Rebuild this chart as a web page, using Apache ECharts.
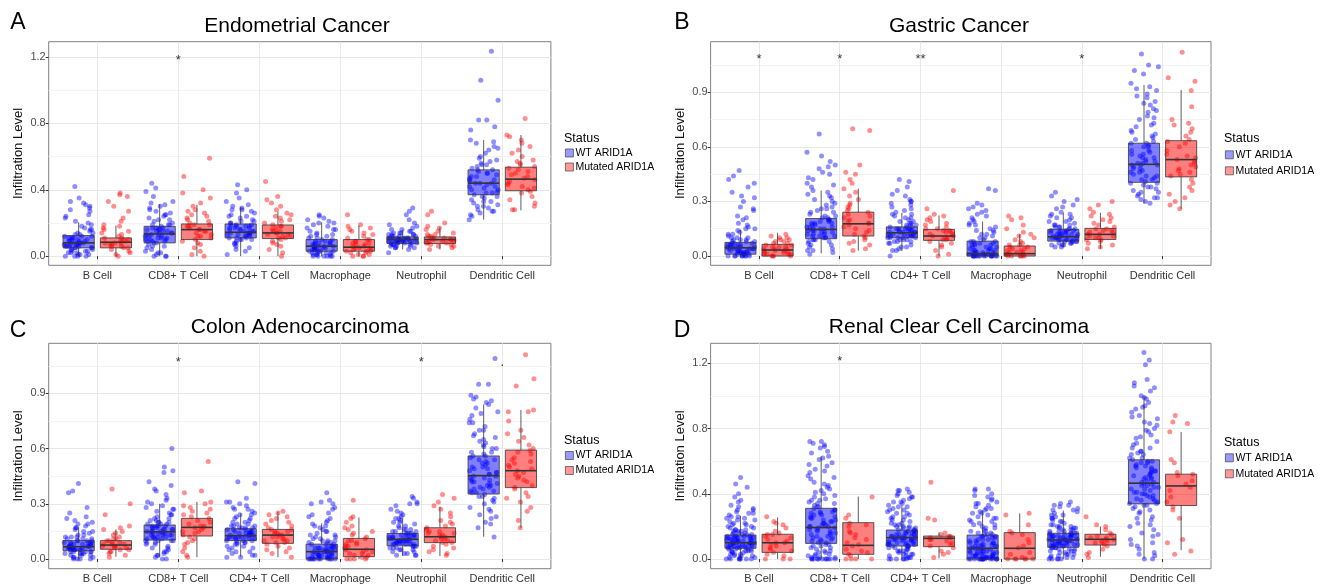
<!DOCTYPE html>
<html>
<head>
<meta charset="utf-8">
<script src="https://cdn.jsdelivr.net/npm/echarts@6.0.0/dist/echarts.min.js"></script>
<style>
html, body { margin: 0; padding: 0; background: #fff; }
#main { width: 1327px; height: 586px; }
</style>
</head>
<body>
<div id="main"></div>
<script>
// categories / groups
var cells = ['B Cell', 'CD8+ T Cell', 'CD4+ T Cell', 'Macrophage', 'Neutrophil', 'Dendritic Cell'];
var groups = ['WT ARID1A', 'Mutated ARID1A'];

// ---- A: Endometrial Cancer ----
var endoRange = [-0.055, 1.292];
var endoTicks = [0, 0.4, 0.8, 1.2];
var endoMinor = [0.2, 0.6, 1.0];
// [low whisker, q1, median, q3, high whisker]
var endoWtBox = [[0,0.05,0.08,0.124,0.204],[0,0.08,0.134,0.18,0.314],[0,0.11,0.144,0.194,0.296],[0,0.03,0.06,0.10,0.204],[0.04,0.076,0.10,0.116,0.16],[0.22,0.37,0.44,0.52,0.70]];
var endoMutBox = [[0,0.05,0.084,0.11,0.184],[0,0.10,0.16,0.194,0.31],[0,0.106,0.14,0.188,0.268],[0,0.03,0.054,0.10,0.184],[0.04,0.076,0.10,0.116,0.174],[0.276,0.394,0.464,0.536,0.73]];
var endoWtPts = [
  [0.42,0.35,0.33,0.32,0.31,0.30,0.29,0.28,0.27,0.25,0.24,0.23,0.21,0.20,0.19,0.18,0.17,0.16,0.15,0.14,0.13,0.13,0.12,0.12,0.11,0.11,0.10,0.10,0.09,0.09,0.09,0.08,0.08,0.08,0.07,0.07,0.07,0.06,0.06,0.06,0.05,0.05,0.05,0.04,0.04,0.03,0.03,0.02,0.02,0.01,0.01,0.00,0.00,0.00,
   0.16,0.14,0.12,0.11,0.10,0.09,0.08,0.07,0.06,0.05,0.04,0.03,0.02,0.01,0.00],
  [0.44,0.41,0.39,0.36,0.33,0.32,0.31,0.29,0.28,0.27,0.26,0.25,0.24,0.23,0.22,0.21,0.20,0.19,0.19,0.18,0.17,0.17,0.16,0.16,0.15,0.15,0.14,0.14,0.13,0.13,0.12,0.12,0.11,0.11,0.10,0.10,0.09,0.09,0.08,0.08,0.07,0.06,0.05,0.04,0.03,0.02,0.01,0.00,0.00,0.00,
   0.30,0.25,0.22,0.19,0.17,0.16,0.15,0.14,0.13,0.12,0.11,0.10,0.09,0.06,0.02],
  [0.43,0.40,0.38,0.35,0.33,0.31,0.30,0.29,0.28,0.27,0.26,0.25,0.24,0.23,0.22,0.21,0.20,0.20,0.19,0.19,0.18,0.18,0.17,0.17,0.16,0.16,0.15,0.15,0.14,0.14,0.14,0.13,0.13,0.12,0.12,0.11,0.11,0.10,0.10,0.09,0.08,0.07,0.06,0.05,0.03,0.01,
   0.28,0.24,0.21,0.19,0.18,0.17,0.16,0.15,0.14,0.13,0.12,0.11,0.10,0.08,0.04],
  [0.25,0.24,0.23,0.22,0.21,0.20,0.19,0.18,0.17,0.16,0.15,0.14,0.13,0.12,0.12,0.11,0.10,0.10,0.09,0.09,0.08,0.08,0.07,0.07,0.06,0.06,0.06,0.05,0.05,0.05,0.04,0.04,0.04,0.03,0.03,0.03,0.02,0.02,0.02,0.01,0.01,0.01,0.00,0.00,0.00,0.00,
   0.20,0.16,0.13,0.11,0.09,0.08,0.07,0.06,0.05,0.04,0.03,0.02,0.01,0.00,0.00],
  [0.29,0.27,0.25,0.22,0.20,0.19,0.18,0.17,0.16,0.15,0.15,0.14,0.14,0.13,0.13,0.13,0.12,0.12,0.12,0.11,0.11,0.11,0.11,0.10,0.10,0.10,0.10,0.10,0.09,0.09,0.09,0.09,0.08,0.08,0.08,0.08,0.07,0.07,0.07,0.06,0.06,0.05,0.05,0.04,0.02,
   0.16,0.14,0.13,0.12,0.11,0.11,0.10,0.10,0.09,0.09,0.08,0.08,0.07,0.06,0.05],
  [1.235,1.06,0.94,0.82,0.82,0.78,0.76,0.70,0.69,0.68,0.66,0.64,0.62,0.60,0.58,0.57,0.56,0.55,0.54,0.53,0.52,0.51,0.50,0.49,0.48,0.47,0.46,0.45,0.44,0.44,0.43,0.42,0.41,0.40,0.39,0.38,0.37,0.36,0.35,0.34,0.33,0.32,0.31,0.30,0.29,0.28,0.27,0.26,0.25,0.24,0.22,
   0.65,0.59,0.55,0.52,0.50,0.48,0.46,0.44,0.42,0.40,0.38,0.36,0.33,0.30,0.27]
];
var endoMutPts = [
  [0.38,0.37,0.36,0.33,0.30,0.27,0.23,0.21,0.19,0.18,0.17,0.16,0.15,0.14,0.13,0.12,0.11,0.11,0.10,0.10,0.09,0.09,0.08,0.08,0.08,0.07,0.07,0.06,0.06,0.05,0.05,0.04,0.03,0.02,0.01,0.00],
  [0.59,0.48,0.40,0.38,0.35,0.32,0.30,0.28,0.27,0.26,0.25,0.24,0.23,0.22,0.21,0.20,0.19,0.19,0.18,0.18,0.17,0.16,0.16,0.15,0.15,0.14,0.13,0.12,0.12,0.11,0.10,0.09,0.08,0.07,0.05,0.03,0.01,0.00],
  [0.45,0.36,0.34,0.32,0.30,0.28,0.26,0.25,0.24,0.23,0.22,0.21,0.20,0.19,0.18,0.18,0.17,0.16,0.15,0.15,0.14,0.14,0.13,0.13,0.12,0.12,0.11,0.11,0.10,0.09,0.08,0.07,0.06,0.04,0.02,0.00],
  [0.25,0.19,0.18,0.17,0.16,0.15,0.14,0.13,0.12,0.11,0.10,0.10,0.09,0.09,0.08,0.08,0.07,0.07,0.06,0.06,0.05,0.05,0.05,0.04,0.04,0.03,0.03,0.03,0.02,0.02,0.01,0.01,0.00,0.00,0.00],
  [0.27,0.25,0.20,0.18,0.17,0.16,0.15,0.14,0.13,0.13,0.12,0.12,0.11,0.11,0.11,0.10,0.10,0.10,0.10,0.09,0.09,0.09,0.08,0.08,0.08,0.07,0.07,0.06,0.06,0.05,0.04],
  [0.83,0.73,0.72,0.70,0.68,0.66,0.64,0.62,0.60,0.58,0.57,0.56,0.55,0.54,0.53,0.52,0.51,0.50,0.49,0.48,0.47,0.46,0.45,0.44,0.43,0.42,0.41,0.40,0.39,0.38,0.36,0.34,0.32,0.30,0.28,0.28]
];
var endoMarks = [[1, 1.2, '*']];

// ---- B: Gastric Cancer ----
var gastRange = [-0.051, 1.178];
var gastTicks = [0, 0.3, 0.6, 0.9];
var gastMinor = [0.15, 0.45, 0.75, 1.05];
var gastWtBox = [[0,0.01,0.045,0.075,0.145],[0.015,0.095,0.146,0.206,0.36],[0.027,0.10,0.128,0.16,0.237],[0,0,0.013,0.082,0.19],[0.05,0.082,0.106,0.146,0.237],[0.29,0.405,0.504,0.62,0.94]];
var gastMutBox = [[0,0,0.033,0.064,0.128],[0.03,0.11,0.177,0.241,0.37],[0,0.086,0.11,0.146,0.223],[0,0,0.013,0.055,0.12],[0.04,0.091,0.119,0.152,0.237],[0.26,0.435,0.53,0.634,0.913]];
var gastWtPts = [
  [0.47,0.44,0.42,0.40,0.38,0.35,0.32,0.30,0.27,0.25,0.22,0.20,0.18,0.17,0.16,0.15,0.14,0.13,0.12,0.11,0.10,0.10,0.09,0.09,0.08,0.08,0.07,0.07,0.06,0.06,0.06,0.05,0.05,0.05,0.04,0.04,0.04,0.03,0.03,0.03,0.02,0.02,0.02,0.01,0.01,0.01,0.00,0.00,0.00,0.00,
   0.33,0.26,0.21,0.15,0.12,0.10,0.09,0.08,0.07,0.06,0.06,0.05,0.05,0.04,0.04,0.03,0.03,0.02,0.02,0.01,0.01,0.00,0.00,0.00,0.00],
  [0.67,0.57,0.55,0.52,0.50,0.49,0.46,0.45,0.42,0.40,0.38,0.36,0.35,0.33,0.31,0.30,0.28,0.27,0.26,0.25,0.24,0.23,0.22,0.21,0.20,0.20,0.19,0.18,0.18,0.17,0.16,0.16,0.15,0.15,0.14,0.14,0.13,0.13,0.12,0.12,0.11,0.11,0.10,0.10,0.09,0.09,0.08,0.07,0.06,0.05,0.04,0.03,0.02,0.01,
   0.48,0.43,0.39,0.34,0.32,0.29,0.26,0.24,0.22,0.21,0.20,0.19,0.18,0.17,0.16,0.15,0.14,0.13,0.12,0.11,0.10,0.09,0.08,0.06,0.03],
  [0.42,0.41,0.38,0.36,0.33,0.31,0.30,0.29,0.28,0.27,0.25,0.24,0.23,0.22,0.21,0.20,0.19,0.18,0.18,0.17,0.17,0.16,0.16,0.15,0.15,0.14,0.14,0.13,0.13,0.13,0.12,0.12,0.12,0.11,0.11,0.10,0.10,0.10,0.09,0.09,0.08,0.08,0.07,0.06,0.05,0.04,0.03,0.00,
   0.34,0.30,0.26,0.23,0.21,0.19,0.17,0.16,0.15,0.15,0.14,0.14,0.13,0.13,0.12,0.12,0.11,0.11,0.10,0.10,0.09,0.08,0.07,0.05,0.03],
  [0.37,0.36,0.29,0.28,0.27,0.25,0.24,0.22,0.21,0.19,0.18,0.17,0.16,0.15,0.14,0.13,0.12,0.11,0.10,0.09,0.08,0.08,0.07,0.07,0.06,0.06,0.05,0.05,0.04,0.04,0.03,0.03,0.02,0.02,0.02,0.01,0.01,0.01,0.01,0.00,0.00,0.00,0.00,0.00,0.00,0.00,0.00,0.00,
   0.26,0.23,0.20,0.17,0.14,0.12,0.10,0.08,0.07,0.06,0.05,0.04,0.03,0.03,0.02,0.02,0.01,0.01,0.00,0.00,0.00,0.00,0.00,0.00,0.00],
  [0.35,0.33,0.30,0.28,0.26,0.24,0.23,0.22,0.21,0.20,0.19,0.18,0.17,0.17,0.16,0.16,0.15,0.15,0.14,0.14,0.13,0.13,0.12,0.12,0.12,0.11,0.11,0.11,0.10,0.10,0.10,0.09,0.09,0.09,0.08,0.08,0.08,0.07,0.07,0.06,0.06,0.05,
   0.31,0.27,0.23,0.21,0.19,0.17,0.16,0.15,0.14,0.14,0.13,0.13,0.12,0.12,0.11,0.11,0.10,0.10,0.09,0.09,0.08,0.08,0.07,0.06,0.05],
  [1.11,1.05,1.04,1.02,0.95,0.93,0.91,0.89,0.87,0.85,0.83,0.81,0.79,0.77,0.75,0.73,0.71,0.69,0.67,0.66,0.64,0.63,0.62,0.61,0.60,0.58,0.57,0.56,0.55,0.54,0.53,0.52,0.51,0.50,0.50,0.49,0.48,0.47,0.46,0.45,0.44,0.43,0.42,0.41,0.40,0.39,0.38,0.37,0.36,0.35,0.34,0.33,0.32,0.31,0.30,0.29,
   1.00,0.92,0.88,0.84,0.80,0.76,0.72,0.68,0.65,0.62,0.60,0.58,0.56,0.54,0.52,0.51,0.50,0.48,0.46,0.44,0.42,0.40,0.38,0.35,0.32]
];
var gastMutPts = [
  [0.12,0.11,0.10,0.10,0.09,0.09,0.08,0.08,0.07,0.07,0.06,0.06,0.05,0.05,0.05,0.04,0.04,0.04,0.03,0.03,0.03,0.02,0.02,0.02,0.01,0.01,0.01,0.01,0.00,0.00,0.00,0.00],
  [0.70,0.69,0.50,0.46,0.45,0.42,0.40,0.37,0.35,0.33,0.31,0.29,0.28,0.27,0.26,0.25,0.24,0.23,0.22,0.21,0.20,0.19,0.18,0.18,0.17,0.16,0.15,0.14,0.13,0.12,0.11,0.10,0.09,0.08,0.07,0.06,0.04,0.03],
  [0.36,0.26,0.23,0.22,0.21,0.20,0.19,0.18,0.17,0.16,0.15,0.15,0.14,0.14,0.13,0.13,0.12,0.12,0.11,0.11,0.10,0.10,0.09,0.09,0.08,0.07,0.06,0.05,0.03,0.01,0.00],
  [0.22,0.21,0.20,0.17,0.15,0.13,0.12,0.11,0.10,0.09,0.08,0.07,0.06,0.06,0.05,0.05,0.04,0.04,0.03,0.03,0.02,0.02,0.02,0.01,0.01,0.01,0.01,0.00,0.00,0.00,0.00,0.00,0.00],
  [0.30,0.28,0.26,0.24,0.23,0.22,0.21,0.20,0.19,0.18,0.17,0.16,0.15,0.15,0.14,0.14,0.13,0.13,0.12,0.12,0.11,0.11,0.10,0.10,0.09,0.09,0.08,0.07,0.06,0.05,0.04],
  [1.12,0.98,0.96,0.91,0.82,0.75,0.73,0.72,0.70,0.68,0.66,0.64,0.63,0.62,0.60,0.58,0.56,0.55,0.54,0.53,0.52,0.51,0.50,0.49,0.48,0.47,0.46,0.45,0.44,0.42,0.40,0.38,0.36,0.34,0.32,0.30,0.28,0.26]
];
var gastMarks = [[0, 1.099, '*'], [1, 1.099, '*'], [2, 1.099, '**'], [4, 1.099, '*']];

// ---- C: Colon Adenocarcinoma ----
var colonRange = [-0.0525, 1.172];
var colonTicks = [0, 0.3, 0.6, 0.9];
var colonMinor = [0.15, 0.45, 0.75, 1.05];
var colonWtBox = [[0,0.045,0.067,0.10,0.172],[0.01,0.103,0.148,0.185,0.30],[0.013,0.10,0.127,0.165,0.248],[0,0,0.04,0.081,0.194],[0.016,0.072,0.107,0.139,0.221],[0.121,0.353,0.453,0.56,0.84]];
var colonMutBox = [[0.013,0.053,0.076,0.10,0.161],[0.01,0.125,0.172,0.221,0.31],[0.01,0.085,0.13,0.161,0.257],[0,0.013,0.053,0.112,0.226],[0.016,0.089,0.121,0.17,0.284],[0.17,0.388,0.48,0.592,0.81]];
var colonWtPts = [
  [0.41,0.37,0.36,0.28,0.25,0.23,0.21,0.20,0.19,0.18,0.17,0.16,0.15,0.14,0.13,0.12,0.12,0.11,0.11,0.10,0.10,0.09,0.09,0.08,0.08,0.08,0.07,0.07,0.07,0.06,0.06,0.06,0.05,0.05,0.05,0.04,0.04,0.04,0.03,0.03,0.02,0.02,0.01,0.01,0.00,0.00,
   0.22,0.19,0.17,0.15,0.13,0.12,0.11,0.10,0.10,0.09,0.09,0.08,0.08,0.07,0.07,0.07,0.06,0.06,0.06,0.05,0.05,0.05,0.04,0.04,0.03,0.03,0.02,0.01,0.00,0.00],
  [0.60,0.50,0.48,0.47,0.42,0.40,0.37,0.35,0.33,0.32,0.30,0.29,0.28,0.27,0.26,0.25,0.24,0.23,0.22,0.21,0.20,0.20,0.19,0.19,0.18,0.18,0.17,0.17,0.16,0.16,0.15,0.15,0.14,0.14,0.13,0.13,0.12,0.12,0.11,0.11,0.10,0.10,0.09,0.08,0.07,0.06,0.05,0.04,0.03,0.02,0.01,0.00,
   0.38,0.31,0.27,0.24,0.22,0.21,0.20,0.19,0.18,0.18,0.17,0.16,0.16,0.15,0.15,0.14,0.14,0.13,0.13,0.12,0.12,0.11,0.10,0.10,0.09,0.08,0.06,0.04,0.02,0.00],
  [0.42,0.41,0.33,0.31,0.30,0.29,0.28,0.27,0.26,0.25,0.24,0.23,0.22,0.21,0.20,0.19,0.18,0.18,0.17,0.17,0.16,0.16,0.15,0.15,0.14,0.14,0.13,0.13,0.13,0.12,0.12,0.12,0.11,0.11,0.10,0.10,0.09,0.09,0.08,0.07,0.06,0.05,0.04,0.03,0.02,0.01,
   0.31,0.27,0.24,0.22,0.20,0.19,0.18,0.17,0.17,0.16,0.15,0.15,0.14,0.14,0.13,0.13,0.12,0.12,0.12,0.11,0.11,0.10,0.10,0.09,0.08,0.07,0.06,0.04,0.02,0.01],
  [0.36,0.32,0.31,0.30,0.28,0.27,0.25,0.23,0.22,0.20,0.19,0.18,0.17,0.16,0.15,0.14,0.13,0.12,0.11,0.10,0.10,0.09,0.09,0.08,0.08,0.07,0.07,0.06,0.06,0.05,0.05,0.05,0.04,0.04,0.04,0.03,0.03,0.03,0.02,0.02,0.02,0.01,0.01,0.01,0.00,0.00,0.00,0.00,0.00,0.00,
   0.30,0.24,0.21,0.18,0.15,0.13,0.12,0.11,0.10,0.09,0.08,0.07,0.07,0.06,0.06,0.05,0.05,0.04,0.04,0.03,0.03,0.02,0.02,0.01,0.01,0.00,0.00,0.00,0.00,0.00],
  [0.34,0.33,0.31,0.30,0.29,0.27,0.25,0.24,0.23,0.22,0.21,0.20,0.19,0.18,0.17,0.16,0.16,0.15,0.15,0.14,0.14,0.13,0.13,0.12,0.12,0.12,0.11,0.11,0.11,0.10,0.10,0.10,0.09,0.09,0.09,0.08,0.08,0.08,0.07,0.07,0.06,0.06,0.05,0.05,0.04,0.03,0.02,
   0.30,0.26,0.22,0.20,0.18,0.16,0.15,0.14,0.14,0.13,0.13,0.12,0.12,0.11,0.11,0.10,0.10,0.10,0.09,0.09,0.08,0.08,0.07,0.07,0.06,0.05,0.04,0.03,0.02,0.02],
  [1.09,0.95,0.95,0.89,0.88,0.87,0.86,0.84,0.82,0.80,0.78,0.76,0.74,0.72,0.70,0.68,0.67,0.65,0.64,0.62,0.61,0.60,0.58,0.57,0.56,0.55,0.54,0.53,0.52,0.51,0.50,0.49,0.48,0.47,0.46,0.45,0.44,0.43,0.42,0.41,0.40,0.39,0.38,0.37,0.36,0.35,0.34,0.33,0.32,0.30,0.28,0.26,0.24,0.22,0.20,0.17,0.12,
   0.85,0.79,0.74,0.70,0.66,0.63,0.60,0.58,0.56,0.54,0.52,0.50,0.49,0.47,0.46,0.45,0.44,0.43,0.42,0.41,0.40,0.39,0.38,0.37,0.36,0.34,0.31,0.27,0.23,0.19]
];
var colonMutPts = [
  [0.38,0.30,0.24,0.18,0.17,0.16,0.15,0.14,0.13,0.12,0.11,0.11,0.10,0.10,0.09,0.09,0.08,0.08,0.08,0.07,0.07,0.07,0.06,0.06,0.05,0.05,0.04,0.04,0.03,0.02,0.01],
  [0.53,0.37,0.36,0.31,0.30,0.29,0.28,0.27,0.26,0.25,0.24,0.23,0.22,0.21,0.20,0.19,0.18,0.18,0.17,0.17,0.16,0.15,0.15,0.14,0.13,0.12,0.11,0.10,0.09,0.08,0.06,0.04,0.02,0.01],
  [0.26,0.25,0.24,0.23,0.22,0.21,0.20,0.19,0.18,0.17,0.16,0.16,0.15,0.15,0.14,0.14,0.13,0.13,0.12,0.12,0.11,0.11,0.10,0.10,0.09,0.09,0.08,0.07,0.06,0.05,0.04,0.03,0.01],
  [0.32,0.23,0.22,0.20,0.18,0.17,0.16,0.15,0.14,0.13,0.12,0.11,0.10,0.10,0.09,0.08,0.08,0.07,0.07,0.06,0.05,0.05,0.04,0.04,0.03,0.03,0.02,0.02,0.01,0.01,0.00,0.00,0.00,0.00],
  [0.35,0.33,0.31,0.29,0.27,0.25,0.23,0.21,0.20,0.19,0.18,0.17,0.16,0.15,0.15,0.14,0.14,0.13,0.13,0.12,0.12,0.11,0.11,0.10,0.10,0.09,0.09,0.08,0.07,0.06,0.05,0.04,0.03,0.02],
  [1.11,0.98,0.94,0.81,0.80,0.80,0.75,0.70,0.68,0.66,0.64,0.62,0.60,0.59,0.58,0.57,0.55,0.54,0.53,0.52,0.51,0.50,0.49,0.48,0.47,0.46,0.45,0.44,0.43,0.42,0.40,0.39,0.38,0.36,0.34,0.33,0.31,0.28,0.26,0.21,0.17]
];
var colonMarks = [[1, 1.087, '*'], [4, 1.087, '*'], [5, 1.087, '.']];

// ---- D: Renal Clear Cell Carcinoma ----
var renalRange = [-0.059, 1.322];
var renalTicks = [0, 0.4, 0.8, 1.2];
var renalMinor = [0.2, 0.6, 1.0];
var renalWtBox = [[0,0.066,0.10,0.147,0.264],[0,0.096,0.193,0.311,0.629],[0,0.08,0.131,0.178,0.328],[0,0,0.066,0.147,0.30],[0,0.072,0.117,0.158,0.297],[0,0.338,0.465,0.608,0.997]];
var renalMutBox = [[0,0.041,0.10,0.152,0.256],[0,0.029,0.084,0.223,0.383],[0.004,0.076,0.127,0.141,0.164],[0,0,0.066,0.162,0.28],[0.014,0.086,0.121,0.152,0.199],[0.055,0.328,0.448,0.52,0.778]];
var renalWtPts = [
  [0.50,0.46,0.44,0.40,0.38,0.36,0.35,0.33,0.32,0.31,0.30,0.29,0.28,0.27,0.26,0.25,0.24,0.23,0.22,0.21,0.20,0.19,0.19,0.18,0.18,0.17,0.17,0.16,0.16,0.15,0.15,0.14,0.14,0.14,0.13,0.13,0.13,0.12,0.12,0.12,0.11,0.11,0.11,0.10,0.10,0.10,0.10,0.09,0.09,0.09,0.08,0.08,0.08,0.07,0.07,0.07,0.06,0.06,0.05,0.05,0.04,0.04,0.03,0.03,0.02,0.02,0.01,0.01,0.00,0.00,0.00,0.00,
   0.30,0.28,0.26,0.25,0.24,0.22,0.21,0.20,0.18,0.17,0.16,0.15,0.15,0.14,0.14,0.13,0.13,0.12,0.12,0.11,0.11,0.10,0.10,0.09,0.09,0.08,0.08,0.07,0.07,0.06,0.06,0.05,0.05,0.04,0.03,0.02,0.01,0.00,0.00,0.00],
  [0.72,0.72,0.71,0.70,0.69,0.68,0.66,0.65,0.63,0.61,0.59,0.57,0.55,0.53,0.51,0.49,0.47,0.45,0.43,0.42,0.40,0.39,0.37,0.36,0.35,0.34,0.33,0.32,0.31,0.30,0.29,0.28,0.27,0.26,0.25,0.24,0.23,0.22,0.21,0.20,0.20,0.19,0.19,0.18,0.17,0.16,0.15,0.14,0.13,0.12,0.11,0.10,0.09,0.09,0.08,0.07,0.06,0.05,0.04,0.04,0.03,0.02,0.02,0.01,0.01,0.00,0.00,0.00,0.00,0.00,0.00,0.00,
   0.62,0.58,0.54,0.50,0.46,0.44,0.41,0.38,0.36,0.34,0.32,0.30,0.29,0.28,0.27,0.26,0.25,0.24,0.23,0.22,0.21,0.20,0.18,0.17,0.16,0.15,0.14,0.13,0.12,0.11,0.10,0.08,0.07,0.05,0.03,0.01,0.00,0.00,0.00,0.00],
  [0.43,0.42,0.42,0.41,0.40,0.39,0.38,0.37,0.36,0.35,0.34,0.33,0.32,0.31,0.30,0.29,0.28,0.27,0.26,0.25,0.24,0.23,0.22,0.21,0.20,0.20,0.19,0.19,0.18,0.18,0.17,0.17,0.16,0.16,0.15,0.15,0.14,0.14,0.13,0.13,0.13,0.12,0.12,0.12,0.11,0.11,0.10,0.10,0.09,0.09,0.08,0.08,0.07,0.07,0.06,0.05,0.05,0.04,0.03,0.03,0.02,0.01,0.01,0.00,0.00,0.00,
   0.38,0.35,0.32,0.30,0.28,0.26,0.24,0.22,0.21,0.20,0.19,0.18,0.17,0.16,0.15,0.15,0.14,0.14,0.13,0.13,0.12,0.12,0.11,0.11,0.10,0.10,0.09,0.09,0.08,0.08,0.07,0.06,0.05,0.04,0.03,0.02,0.01,0.00,0.00,0.00],
  [0.43,0.43,0.42,0.40,0.38,0.37,0.36,0.35,0.34,0.33,0.32,0.31,0.30,0.29,0.28,0.27,0.26,0.25,0.24,0.23,0.22,0.21,0.20,0.19,0.18,0.17,0.16,0.15,0.15,0.14,0.14,0.13,0.12,0.12,0.11,0.10,0.10,0.09,0.09,0.08,0.08,0.07,0.07,0.06,0.06,0.05,0.05,0.04,0.04,0.03,0.03,0.02,0.02,0.02,0.01,0.01,0.01,0.00,0.00,0.00,0.00,0.00,0.00,0.00,0.00,0.00,
   0.39,0.34,0.31,0.28,0.25,0.23,0.21,0.19,0.17,0.16,0.15,0.14,0.13,0.12,0.11,0.10,0.10,0.09,0.08,0.08,0.07,0.07,0.06,0.05,0.05,0.04,0.04,0.03,0.03,0.02,0.02,0.01,0.01,0.00,0.00,0.00,0.00,0.00,0.00,0.00],
  [0.35,0.34,0.33,0.32,0.31,0.30,0.29,0.28,0.27,0.26,0.25,0.24,0.23,0.22,0.21,0.20,0.20,0.19,0.19,0.18,0.18,0.17,0.17,0.16,0.16,0.15,0.15,0.15,0.14,0.14,0.14,0.13,0.13,0.13,0.12,0.12,0.12,0.11,0.11,0.11,0.10,0.10,0.10,0.09,0.09,0.09,0.08,0.08,0.08,0.07,0.07,0.06,0.06,0.05,0.05,0.04,0.03,0.03,0.02,0.01,0.01,0.00,0.00,0.00,
   0.33,0.30,0.27,0.25,0.23,0.21,0.20,0.19,0.18,0.17,0.16,0.16,0.15,0.15,0.14,0.14,0.13,0.13,0.12,0.12,0.11,0.11,0.10,0.10,0.09,0.09,0.08,0.08,0.07,0.07,0.06,0.05,0.04,0.03,0.02,0.01,0.00,0.00],
  [1.265,1.22,1.19,1.10,1.08,1.06,1.03,1.00,0.98,0.96,0.94,0.92,0.90,0.88,0.86,0.84,0.82,0.80,0.78,0.76,0.74,0.72,0.70,0.68,0.66,0.65,0.64,0.62,0.61,0.60,0.59,0.58,0.57,0.56,0.55,0.54,0.53,0.52,0.51,0.50,0.49,0.48,0.47,0.46,0.45,0.44,0.43,0.42,0.41,0.40,0.39,0.38,0.37,0.36,0.35,0.34,0.33,0.32,0.30,0.28,0.26,0.24,0.22,0.20,0.18,0.16,0.14,0.12,0.10,0.08,0.06,0.04,0.02,0.00,0.00,
   1.05,0.99,0.93,0.87,0.83,0.79,0.75,0.71,0.68,0.66,0.64,0.62,0.60,0.59,0.57,0.56,0.54,0.53,0.51,0.50,0.49,0.47,0.46,0.45,0.44,0.43,0.41,0.40,0.39,0.37,0.36,0.34,0.33,0.31,0.29,0.25,0.21,0.15,0.09,0.03]
];
var renalMutPts = [
  [0.26,0.23,0.22,0.21,0.19,0.17,0.16,0.15,0.15,0.14,0.13,0.12,0.11,0.10,0.10,0.09,0.08,0.07,0.06,0.05,0.04,0.03,0.02,0.00,0.00,0.00],
  [0.38,0.27,0.25,0.22,0.21,0.20,0.17,0.16,0.15,0.13,0.12,0.10,0.09,0.08,0.06,0.05,0.04,0.03,0.02,0.00,0.00,0.00,0.00],
  [0.47,0.25,0.24,0.16,0.15,0.14,0.14,0.13,0.13,0.12,0.12,0.11,0.10,0.09,0.08,0.07,0.05,0.04,0.03,0.01],
  [0.28,0.27,0.21,0.17,0.16,0.15,0.12,0.10,0.08,0.07,0.04,0.03,0.01,0.00,0.00,0.00,0.00,0.00,0.00],
  [0.26,0.21,0.20,0.18,0.16,0.15,0.14,0.13,0.13,0.12,0.12,0.11,0.11,0.10,0.10,0.09,0.08,0.06,0.04,0.03,0.01],
  [0.88,0.84,0.83,0.78,0.61,0.59,0.53,0.52,0.51,0.48,0.46,0.44,0.42,0.38,0.35,0.32,0.30,0.25,0.12,0.10,0.05,0.03]
];
var renalMarks = [[1, 1.229, '*']];

var panels = [
  {title: 'Endometrial Cancer', letter: 'A', range: endoRange, ticks: endoTicks, minor: endoMinor, wtBox: endoWtBox, mutBox: endoMutBox, wtPts: endoWtPts, mutPts: endoMutPts, marks: endoMarks},
  {title: 'Gastric Cancer', letter: 'B', range: gastRange, ticks: gastTicks, minor: gastMinor, wtBox: gastWtBox, mutBox: gastMutBox, wtPts: gastWtPts, mutPts: gastMutPts, marks: gastMarks},
  {title: 'Colon Adenocarcinoma', letter: 'C', range: colonRange, ticks: colonTicks, minor: colonMinor, wtBox: colonWtBox, mutBox: colonMutBox, wtPts: colonWtPts, mutPts: colonMutPts, marks: colonMarks},
  {title: 'Renal Clear Cell Carcinoma', letter: 'D', range: renalRange, ticks: renalTicks, minor: renalMinor, wtBox: renalWtBox, mutBox: renalMutBox, wtPts: renalWtPts, mutPts: renalMutPts, marks: renalMarks}
];

// panel frames on the page (px)
var frames = [
  {left: 48.7, top: 41.7, width: 502.2, height: 223.6, titleX: 297, titleY: 26, letterX: 18, letterY: 23, legX: 565, statusY: 139, legTop: 147.5, legGap: 3},
  {left: 710.6, top: 41.7, width: 500.4, height: 223.6, titleX: 959, titleY: 26, letterX: 682, letterY: 23, legX: 1225, statusY: 139, legTop: 149.3, legGap: 5},
  {left: 48.7, top: 343.3, width: 502.2, height: 225.4, titleX: 300, titleY: 327, letterX: 18, letterY: 331, legX: 565, statusY: 441, legTop: 450, legGap: 4},
  {left: 710.6, top: 343.3, width: 500.4, height: 225.4, titleX: 959, titleY: 327, letterX: 682, letterY: 331, legX: 1225, statusY: 442.7, legTop: 452.3, legGap: 5}
];

var wtFill = 'rgba(0,0,255,0.5)', mutFill = 'rgba(255,0,0,0.5)';
var wtDot = 'rgba(0,0,255,0.55)', mutDot = 'rgba(255,0,0,0.55)';

function renderBox(params, api) {
  var i = api.value(0);
  var pLow = api.coord([i, api.value(1)]);
  var yQ1 = api.coord([i, api.value(2)])[1];
  var yMed = api.coord([i, api.value(3)])[1];
  var yQ3 = api.coord([i, api.value(4)])[1];
  var yHigh = api.coord([i, api.value(5)])[1];
  var x = pLow[0];
  var w = api.size([1, 0])[0] * 0.385;
  var edge = {stroke: '#333', lineWidth: 0.8};
  return {type: 'group', children: [
    {type: 'line', shape: {x1: x, y1: pLow[1], x2: x, y2: yQ1}, style: edge},
    {type: 'line', shape: {x1: x, y1: yQ3, x2: x, y2: yHigh}, style: edge},
    {type: 'rect', shape: {x: x - w / 2, y: yQ3, width: w, height: yQ1 - yQ3}, style: {fill: api.visual('color'), stroke: '#333', lineWidth: 0.8}},
    {type: 'line', shape: {x1: x - w / 2, y1: yMed, x2: x + w / 2, y2: yMed}, style: {stroke: '#333', lineWidth: 1.6}}
  ]};
}

function toPoints(lists) {
  var out = [];
  lists.forEach(function (vals, i) {
    vals.forEach(function (v) { out.push([i, v]); });
  });
  return out;
}
function toBoxes(rows) {
  return rows.map(function (r, i) { return [i].concat(r); });
}

var option = {animation: false, grid: [], xAxis: [], yAxis: [], series: [], title: [], legend: []};

panels.forEach(function (p, k) {
  var f = frames[k];
  var u = f.width / 6.2;
  var lefts = [f.left, f.left + 0.6 * u, f.left + 0.37 * u, f.left + 0.83 * u];
  var widths = [f.width, 5 * u, 5 * u, 5 * u];
  var g = option.grid.length;
  var x0 = option.xAxis.length, y0 = option.yAxis.length;
  for (var j = 0; j < 4; j++) {
    option.grid.push({left: lefts[j], top: f.top, width: widths[j], height: f.height,
      show: j === 0, borderColor: '#808080', borderWidth: 1, backgroundColor: 'transparent', outerBoundsMode: 'none'});
  }
  // frame grid: y axis with major + minor lines
  option.xAxis.push({type: 'value', gridIndex: g, show: false, min: 0, max: 1});
  option.yAxis.push({type: 'value', gridIndex: g, min: p.range[0], max: p.range[1],
    axisLine: {show: false},
    axisTick: {show: true, length: 3, customValues: p.ticks, lineStyle: {color: '#333'}},
    axisLabel: {customValues: p.ticks, fontSize: 11, color: '#4d4d4d', margin: 3, fontFamily: 'Liberation Sans',
      formatter: function (v) { return v.toFixed(1); }},
    splitLine: {show: true, lineStyle: {color: '#e8e8e8', width: 1}},
    name: 'Infiltration Level', nameLocation: 'middle', nameGap: 24,
    nameTextStyle: {fontSize: 13, color: '#111', fontFamily: 'Liberation Sans'}});
  option.yAxis.push({type: 'value', gridIndex: g, min: p.range[0], max: p.range[1], position: 'left',
    axisLine: {show: false}, axisTick: {show: false, customValues: p.minor},
    axisLabel: {show: false, customValues: p.minor},
    splitLine: {show: true, lineStyle: {color: '#f3f3f3', width: 1}}});
  // category grid: visible x axis, vertical lines, significance marks
  option.xAxis.push({type: 'category', gridIndex: g + 1, data: cells, boundaryGap: false,
    axisLine: {show: false},
    axisTick: {show: true, length: 3, lineStyle: {color: '#333'}},
    axisLabel: {interval: 0, fontSize: 11, color: '#333', margin: 5, fontFamily: 'Liberation Sans'},
    splitLine: {show: true, lineStyle: {color: '#e8e8e8', width: 1}}});
  option.yAxis.push({type: 'value', gridIndex: g + 1, show: false, min: p.range[0], max: p.range[1], splitLine: {show: false}});
  // WT and mutated grids, shifted to dodge
  [2, 3].forEach(function (j) {
    option.xAxis.push({type: 'category', gridIndex: g + j, data: cells, boundaryGap: false, show: false,
      jitter: 0.36 * u, jitterOverlap: true});
    option.yAxis.push({type: 'value', gridIndex: g + j, show: false, min: p.range[0], max: p.range[1], splitLine: {show: false}});
  });
  var xCat = x0 + 1, yCat = y0 + 2;
  var xWt = x0 + 2, yWt = y0 + 3;
  var xMut = x0 + 3, yMut = y0 + 4;

  option.series.push({type: 'scatter', name: groups[0], xAxisIndex: xWt, yAxisIndex: yWt, data: toPoints(p.wtPts),
    symbolSize: 5, itemStyle: {color: wtDot}, clip: false, silent: true, z: 2});
  option.series.push({type: 'scatter', name: groups[1], xAxisIndex: xMut, yAxisIndex: yMut, data: toPoints(p.mutPts),
    symbolSize: 5, itemStyle: {color: mutDot}, clip: false, silent: true, z: 2});
  option.series.push({type: 'custom', name: groups[0], xAxisIndex: xWt, yAxisIndex: yWt, data: toBoxes(p.wtBox),
    encode: {x: 0, y: [1, 2, 3, 4, 5]}, renderItem: renderBox, itemStyle: {color: wtFill}, silent: true, z: 3});
  option.series.push({type: 'custom', name: groups[1], xAxisIndex: xMut, yAxisIndex: yMut, data: toBoxes(p.mutBox),
    encode: {x: 0, y: [1, 2, 3, 4, 5]}, renderItem: renderBox, itemStyle: {color: mutFill}, silent: true, z: 3});
  option.series.push({type: 'scatter', xAxisIndex: xCat, yAxisIndex: yCat,
    data: p.marks.map(function (m) { return {value: [m[0], m[1]], name: m[2]}; }),
    symbolSize: 1, itemStyle: {color: 'rgba(0,0,0,0)'}, silent: true, z: 4,
    label: {show: true, position: 'inside', formatter: '{b}', fontSize: 13, color: '#000', offset: [0, 3], fontFamily: 'Liberation Sans'}});

  option.title.push({text: p.title, left: f.titleX, top: f.titleY, textAlign: 'center', textVerticalAlign: 'middle', padding: 0,
    textStyle: {fontSize: 21, fontWeight: 'normal', color: '#000', fontFamily: 'Liberation Sans'}});
  option.title.push({text: p.letter, left: f.letterX, top: f.letterY, textAlign: 'center', textVerticalAlign: 'middle', padding: 0,
    textStyle: {fontSize: 23, fontWeight: 'normal', color: '#000', fontFamily: 'Liberation Sans'}});
  option.title.push({text: 'Status', left: f.legX - 1, top: f.statusY, textAlign: 'left', textVerticalAlign: 'middle', padding: 0,
    textStyle: {fontSize: 12.5, fontWeight: 'normal', color: '#000', fontFamily: 'Liberation Sans'}});
  option.legend.push({orient: 'vertical', left: f.legX, top: f.legTop, padding: 0, itemGap: f.legGap,
    itemWidth: 8, itemHeight: 8, selectedMode: false,
    textStyle: {fontSize: 10.5, color: '#000', lineHeight: 8, padding: [0, 0, 0, -3], fontFamily: 'Liberation Sans'},
    data: [
      {name: groups[0], icon: 'rect', itemStyle: {color: wtFill, borderColor: '#333', borderWidth: 0.8}},
      {name: groups[1], icon: 'rect', itemStyle: {color: mutFill, borderColor: '#333', borderWidth: 0.8}}
    ]});
});

var chart = echarts.init(document.getElementById('main'));
chart.setOption(option);
</script>
</body>
</html>
